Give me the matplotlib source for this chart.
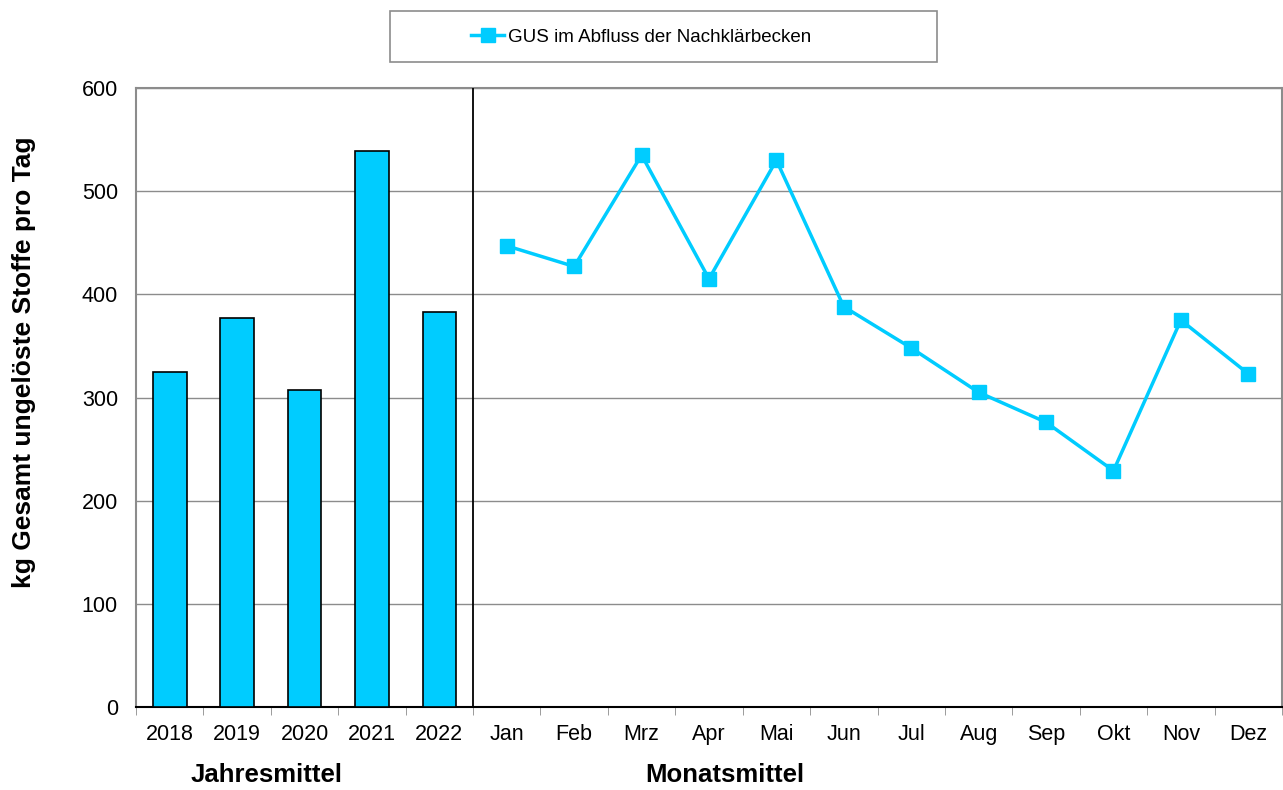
import numpy as np
import matplotlib.pyplot as plt
from matplotlib.patches import Rectangle

plt.rcParams['font.family'] = ['Liberation Sans', 'DejaVu Sans']

# Daten
jahre = ["2018", "2019", "2020", "2021", "2022"]
jahres_werte = [325, 377, 307, 539, 383]
monate = ["Jan", "Feb", "Mrz", "Apr", "Mai", "Jun", "Jul", "Aug", "Sep", "Okt", "Nov", "Dez"]
monats_werte = [447, 427, 535, 415, 530, 388, 348, 305, 276, 229, 375, 323]

farbe = "#00CCFF"
grau = "#8c8c8c"

fig = plt.figure(figsize=(12.83, 7.9), dpi=100)
ax = fig.add_axes([136 / 1283, 1 - 707 / 790, 1146 / 1283, 619 / 790])

x_jahre = np.arange(len(jahre))
x_monate = np.arange(len(monate)) + len(jahre)

# Gitterlinien
ax.set_ylim(0, 600)
ax.set_xlim(-0.5, len(jahre) + len(monate) - 0.5)
ax.set_yticks(range(0, 601, 100))
ax.yaxis.grid(True, color=grau, linewidth=1)
ax.set_axisbelow(True)

# Balken (Jahresmittel)
ax.bar(x_jahre, jahres_werte, width=0.5, color=farbe, edgecolor="black", linewidth=1.2, zorder=3)

# Linie (Monatsmittel)
ax.plot(x_monate, monats_werte, color=farbe, linewidth=2.5, marker="s", markersize=9.5,
        zorder=4, label="GUS im Abfluss der Nachklärbecken")

# Trennlinie
ax.axvline(len(jahre) - 0.5, color="black", linewidth=1.3, zorder=5)

# Achsen
labels = jahre + monate
ax.set_xticks(np.arange(len(labels)))
ax.set_xticklabels(labels, fontsize=15.5)
ax.set_xticks(np.arange(len(labels) + 1) - 0.5, minor=True)
ax.tick_params(axis="x", which="major", length=0, pad=12)
ax.tick_params(axis="x", which="minor", length=6, color=grau, direction="out")
ax.tick_params(axis="y", length=0, labelsize=15.5, pad=13)

for s in ["left", "top", "right"]:
    ax.spines[s].set_color(grau)
    ax.spines[s].set_linewidth(1.5)
ax.spines["bottom"].set_color("black")
ax.spines["bottom"].set_linewidth(1.5)

ax.set_ylabel("kg Gesamt ungelöste Stoffe pro Tag", fontsize=19, fontweight="bold")
ax.yaxis.set_label_coords((36 - 136) / 1146, (707 - 362) / 619)

fig.text(267 / 1283, 1 - 775 / 790, "Jahresmittel", ha="center", va="center",
         fontsize=18.5, fontweight="bold")
fig.text(725 / 1283, 1 - 775 / 790, "Monatsmittel", ha="center", va="center",
         fontsize=18.5, fontweight="bold")

# Legende mit Rahmen
rahmen = Rectangle((390 / 1283, 1 - 62 / 790), 547 / 1283, 51 / 790, transform=fig.transFigure,
                   facecolor="white", edgecolor=grau, linewidth=1.2)
fig.patches.append(rahmen)
fig.legend(loc="center", bbox_to_anchor=(641 / 1283, 1 - 37 / 790), frameon=False,
           fontsize=13.5, handlelength=1.8, handletextpad=0.2)

fig.savefig("out.png", dpi=100)
